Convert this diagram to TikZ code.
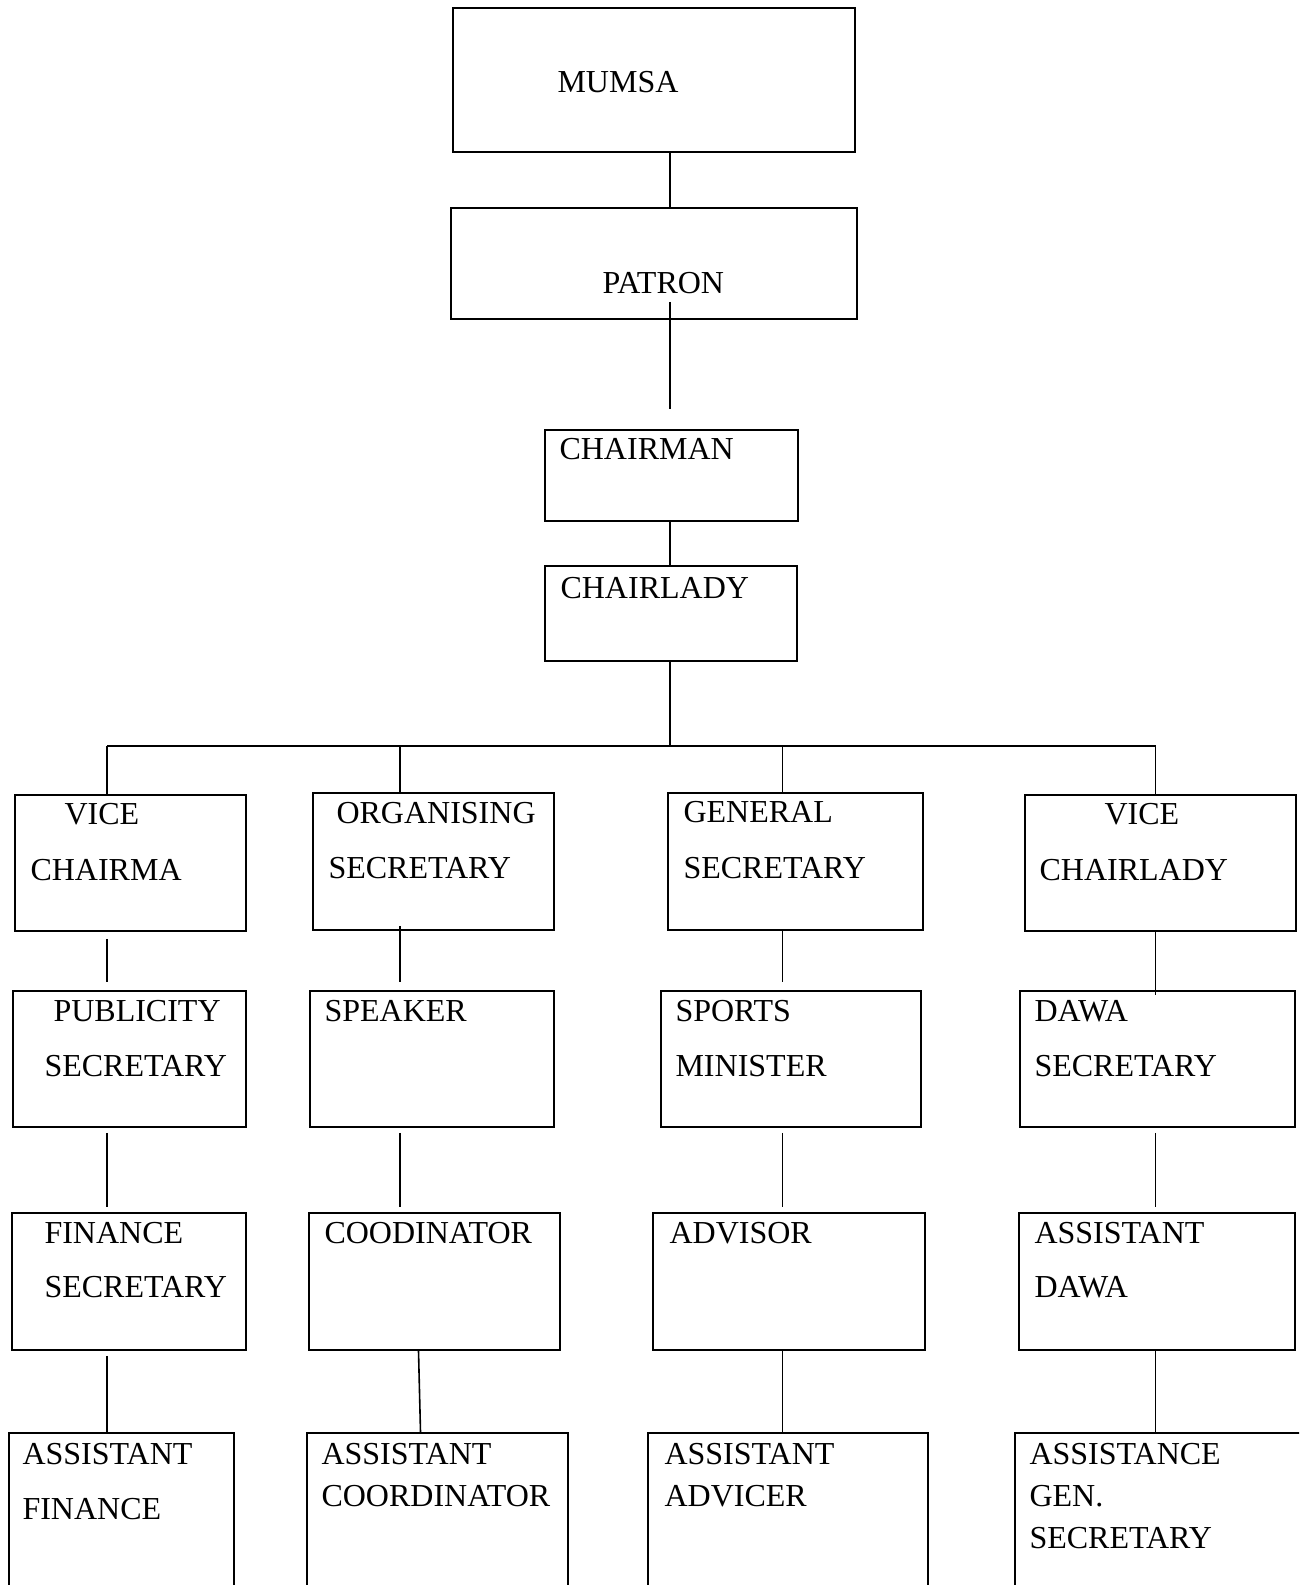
\documentclass[tikz,border=0pt]{standalone}
\usepackage{fontspec}
\setmainfont{Liberation Serif}
\usetikzlibrary{fit}
\usetikzlibrary{calc}
\tikzstyle{office}=[draw, line width=0.6pt, inner sep=0pt]
\tikzstyle{role}=[anchor=base west, inner sep=0pt, font=\fontsize{12}{14}\selectfont]
\tikzstyle{link}=[line width=0.6pt]

\begin{document}
\begin{tikzpicture}[x=0.375pt, y=-0.375pt]
      \useasboundingbox (0, 0) rectangle (1299, 1585);
      \clip (0, 0) rectangle (1299, 1585);
      \coordinate (spine) at (670, 0);
      \coordinate (bus) at (670, 746);
      \coordinate (col1) at (107, 0);
      \coordinate (col2) at (400, 0);
      \coordinate (col3) at (782.5, 0);
      \coordinate (col4) at (1155.5, 0);

      \node[office, fit={(453, 8) (855, 152)}] (mumsa) {};
      \node[office, fit={(451, 208) (857, 319)}] (patron) {};
      \node[office, fit={(545, 430) (798, 521)}] (chairman) {};
      \node[office, fit={(545, 566) (797, 661)}] (chairlady) {};

      \node[office, fit={(15, 795) (246, 931)}] (vc) {};
      \node[office, fit={(313, 793) (554, 930)}] (os) {};
      \node[office, fit={(668, 793) (923, 930)}] (gs) {};
      \node[office, fit={(1025, 795) (1296, 931)}] (vcl) {};

      \node[office, fit={(13, 991) (246, 1127)}] (ps) {};
      \node[office, fit={(310, 991) (554, 1127)}] (speaker) {};
      \node[office, fit={(661, 991) (921, 1127)}] (sm) {};
      \node[office, fit={(1020, 991) (1295, 1127)}] (ds) {};

      \node[office, fit={(12, 1213) (246, 1350)}] (fs) {};
      \node[office, fit={(309, 1213) (560, 1350)}] (cood) {};
      \node[office, fit={(653, 1213) (925, 1350)}] (adv) {};
      \node[office, fit={(1019, 1213) (1295, 1350)}] (ad) {};

      \node[office, fit={(9, 1433) (234, 1600)}] (af) {};
      \node[office, fit={(307, 1433) (568, 1600)}] (ac) {};
      \node[office, fit={(648, 1433) (928, 1600)}] (aa) {};
      \node[office, fit={(1015, 1433) (1320, 1600)}] (ags) {};

      \node[role] (mumsa-l1) at (557, 93) {MUMSA};
      \node[role] (patron-l1) at (602, 294) {PATRON};
      \node[role] (chairman-l1) at (559, 460) {CHAIRMAN};
      \node[role] (chairlady-l1) at (560, 598) {CHAIRLADY};

      \node[role] (vc-l1) at (64, 824) {VICE};
      \node[role] (vc-l2) at (30, 880) {CHAIRMA};
      \node[role] (os-l1) at (336, 823) {ORGANISING};
      \node[role] (os-l2) at (328, 878) {SECRETARY};
      \node[role] (gs-l1) at (683, 822) {GENERAL};
      \node[role] (gs-l2) at (683, 878) {SECRETARY};
      \node[role] (vcl-l1) at (1104, 824) {VICE};
      \node[role] (vcl-l2) at (1039, 880) {CHAIRLADY};

      \node[role] (ps-l1) at (53, 1021) {PUBLICITY};
      \node[role] (ps-l2) at (44, 1076) {SECRETARY};
      \node[role] (speaker-l1) at (324, 1021) {SPEAKER};
      \node[role] (sm-l1) at (675, 1021) {SPORTS};
      \node[role] (sm-l2) at (675, 1076) {MINISTER};
      \node[role] (ds-l1) at (1034, 1021) {DAWA};
      \node[role] (ds-l2) at (1034, 1076) {SECRETARY};

      \node[role] (fs-l1) at (44, 1243) {FINANCE};
      \node[role] (fs-l2) at (44, 1297) {SECRETARY};
      \node[role] (cood-l1) at (324, 1243) {COODINATOR};
      \node[role] (adv-l1) at (669, 1243) {ADVISOR};
      \node[role] (ad-l1) at (1034, 1243) {ASSISTANT};
      \node[role] (ad-l2) at (1034, 1297) {DAWA};

      \node[role] (af-l1) at (22, 1464) {ASSISTANT};
      \node[role] (af-l2) at (22, 1519) {FINANCE};
      \node[role] (ac-l1) at (321, 1464) {ASSISTANT};
      \node[role] (ac-l2) at (321, 1506) {COORDINATOR};
      \node[role] (aa-l1) at (664, 1464) {ASSISTANT};
      \node[role] (aa-l2) at (664, 1506) {ADVICER};
      \node[role] (ags-l1) at (1029, 1464) {ASSISTANCE};
      \node[role] (ags-l2) at (1029, 1506) {GEN.};
      \node[role] (ags-l3) at (1029, 1548) {SECRETARY};

      \draw[link] (spine |- mumsa.south) -- (spine |- patron.north);
      \draw[link] ($(spine |- patron.south)+(0, -18)$) -- ($(spine |- chairman.north)+(0, -20)$);
      \draw[link] (spine |- chairman.south) -- (spine |- chairlady.north);
      \draw[link] (spine |- chairlady.south) -- (bus);
      \draw[link] (col1 |- bus) -- (col4 |- bus);
      \draw[link] (col1 |- bus) -- (col1 |- vc.north);
      \draw[link] (col2 |- bus) -- (col2 |- os.north);
      \draw[link] (col3 |- bus) -- (col3 |- gs.north);
      \draw[link] (col4 |- bus) -- (col4 |- vcl.north);

      \draw[link] ($(col1 |- vc.south)+(0, 7)$) -- ($(col1 |- ps.north)+(0, -8)$);
      \draw[link] ($(col2 |- os.south)+(0, -5)$) -- ($(col2 |- speaker.north)+(0, -8)$);
      \draw[link] (col3 |- gs.south) -- ($(col3 |- sm.north)+(0, -8)$);
      \draw[link] ($(col4 |- vcl.south)+(0, -1)$) -- ($(col4 |- ds.north)+(0, 5)$);

      \draw[link] ($(col1 |- ps.south)+(0, 5)$) -- ($(col1 |- fs.north)+(0, -5)$);
      \draw[link] ($(col2 |- speaker.south)+(0, 5)$) -- ($(col2 |- cood.north)+(0, -5)$);
      \draw[link] ($(col3 |- sm.south)+(0, 5)$) -- ($(col3 |- adv.north)+(0, -5)$);
      \draw[link] ($(col4 |- ds.south)+(0, 5)$) -- ($(col4 |- ad.north)+(0, -5)$);

      \draw[link] ($(col1 |- fs.south)+(0, 5)$) -- (col1 |- af.north);
      \draw[link] ($(cood.south)+(-16, 0)$) -- ($(ac.north)+(-17, 0)$);
      \draw[link] (col3 |- adv.south) -- (col3 |- aa.north);
      \draw[link] (col4 |- ad.south) -- (col4 |- ags.north);
    \end{tikzpicture}
\end{document}
